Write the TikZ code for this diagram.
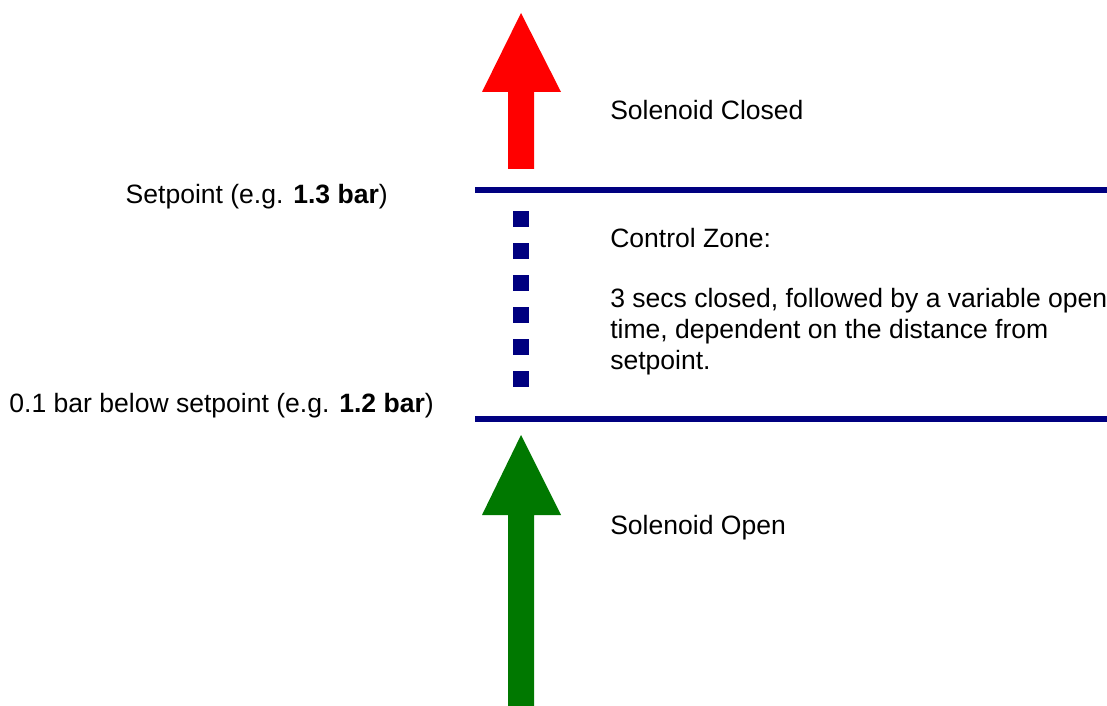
\documentclass[tikz,border=0pt]{standalone}
\usepackage{fontspec}
\setmainfont{Liberation Sans}
\definecolor{navyline}{HTML}{000080}
\definecolor{arrred}{HTML}{FF0000}
\definecolor{arrgreen}{HTML}{007800}
\tikzset{
  lbl/.style={anchor=base west, inner sep=0pt, font=\fontsize{19.9}{23.25}\selectfont},
  lblr/.style={anchor=base east, inner sep=0pt, font=\fontsize{19.9}{23.25}\selectfont},
  level/.style={draw=navyline, line width=4.5pt},
  sq/.style={fill=navyline},
}
\begin{document}
\begin{tikzpicture}[x=0.75pt,y=-0.75pt]
\useasboundingbox (0,0) rectangle (1107,706);
% red arrow
\fill[arrred] (508,169) -- (508,92) -- (482,92) -- (521,13) -- (561,92) -- (534,92) -- (534,169) -- cycle;
% green arrow
\fill[arrgreen] (508,706) -- (508,515) -- (482,515) -- (521,435) -- (561,515) -- (534,515) -- (534,706) -- cycle;
% level lines
\coordinate (t1) at (475,190);
\coordinate (t2) at (1107,190);
\coordinate (b1) at (475,419);
\coordinate (b2) at (1107,419);
\draw[level] (t1) -- (t2);
\draw[level] (b1) -- (b2);
% dotted squares
\foreach \i in {0,...,5}{
  \fill[sq] (513,211+32*\i) rectangle (529,227+32*\i);
}
% labels
\node[lbl] (sc) at (610,120) {Solenoid Closed};
\node[lblr] (sp) at (388,204) {Setpoint (e.g. \textbf{1.3 bar})};
\node[lbl] (cz) at (610,247.5) {Control Zone:};
\node[lbl] (d1) at (610,307.5) {3 secs closed, followed by a variable open};
\node[lbl] (d2) at (610,338.5) {time, dependent on the distance from};
\node[lbl] (d3) at (610,369.5) {setpoint.};
\node[lblr] (bs) at (434,412.5) {0.1 bar below setpoint (e.g. \textbf{1.2 bar})};
\node[lbl] (so) at (610,534.5) {Solenoid Open};
\end{tikzpicture}
\end{document}
